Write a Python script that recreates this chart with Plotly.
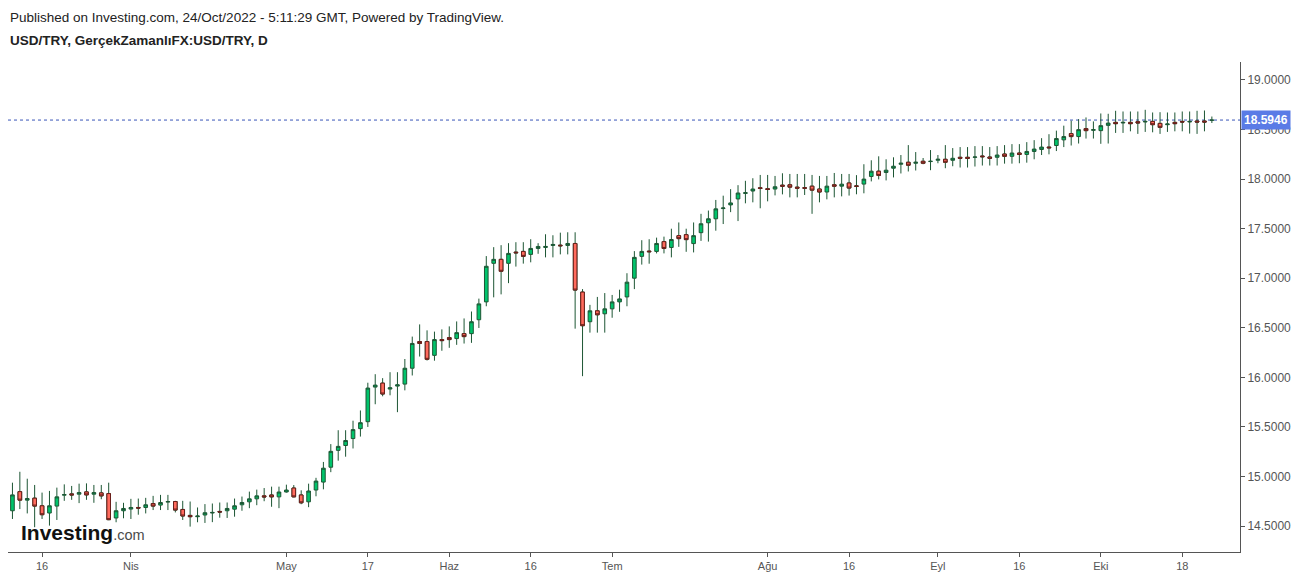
import pandas as pd
import plotly.graph_objects as go

# ---- data (weekday daily candles, 10 Mar 2022 - 24 Oct 2022) ----
dates = [d.strftime("%Y-%m-%d") for d in pd.bdate_range("2022-03-10", "2022-10-24")]

open_ = [14.655, 14.848, 14.762, 14.782, 14.705, 14.632, 14.702, 14.812, 14.825, 14.822,
         14.845, 14.822, 14.835, 14.828, 14.582, 14.655, 14.672, 14.688, 14.688, 14.728,
         14.712, 14.742, 14.748, 14.668, 14.608, 14.595, 14.612, 14.632, 14.648, 14.655,
         14.671, 14.715, 14.745, 14.775, 14.805, 14.814, 14.795, 14.844, 14.884, 14.814,
         14.745, 14.864, 14.944, 15.094, 15.264, 15.313, 15.383, 15.483, 15.553, 15.902,
         15.942, 15.882, 15.912, 15.932, 16.092, 16.361, 16.361, 16.222, 16.381, 16.401,
         16.391, 16.441, 16.441, 16.581, 16.761, 17.150, 17.190, 17.150, 17.263, 17.270,
         17.240, 17.300, 17.310, 17.330, 17.333, 17.330, 17.350, 16.860, 16.561, 16.671,
         16.641, 16.691, 16.761, 16.811, 17.000, 17.220, 17.273, 17.270, 17.369, 17.310,
         17.429, 17.439, 17.349, 17.459, 17.559, 17.599, 17.702, 17.739, 17.799, 17.855,
         17.879, 17.912, 17.902, 17.899, 17.938, 17.942, 17.918, 17.912, 17.928, 17.899,
         17.869, 17.942, 17.928, 17.960, 17.930, 17.949, 18.026, 18.079, 18.066, 18.109,
         18.149, 18.169, 18.159, 18.179, 18.176, 18.189, 18.199, 18.189, 18.219, 18.219,
         18.219, 18.232, 18.222, 18.219, 18.252, 18.229, 18.262, 18.248, 18.278, 18.298,
         18.322, 18.338, 18.395, 18.458, 18.428, 18.508, 18.491, 18.488, 18.541, 18.571,
         18.565, 18.571, 18.578, 18.575, 18.581, 18.561, 18.548, 18.571, 18.581, 18.575,
         18.585, 18.585, 18.592]
high = [14.938, 15.048, 14.978, 14.915, 14.838, 14.855, 14.888, 14.921, 14.905, 14.928,
        14.931, 14.915, 14.915, 14.938, 14.745, 14.735, 14.775, 14.778, 14.785, 14.805,
        14.815, 14.815, 14.755, 14.755, 14.748, 14.688, 14.722, 14.728, 14.738, 14.738,
        14.778, 14.798, 14.848, 14.868, 14.884, 14.898, 14.898, 14.918, 14.914, 14.861,
        14.928, 14.987, 15.147, 15.327, 15.467, 15.467, 15.563, 15.666, 15.946, 16.032,
        15.992, 16.052, 16.052, 16.185, 16.411, 16.534, 16.474, 16.461, 16.484, 16.514,
        16.564, 16.594, 16.664, 16.794, 17.223, 17.313, 17.333, 17.353, 17.363, 17.363,
        17.393, 17.353, 17.443, 17.433, 17.459, 17.463, 17.463, 16.890, 16.731, 16.811,
        16.850, 16.831, 16.884, 17.050, 17.273, 17.383, 17.393, 17.409, 17.419, 17.499,
        17.562, 17.499, 17.562, 17.649, 17.682, 17.789, 17.832, 17.898, 17.938, 17.982,
        18.008, 18.041, 18.041, 18.031, 18.058, 18.051, 18.051, 18.051, 18.041, 18.031,
        18.031, 18.061, 18.051, 18.051, 18.039, 18.149, 18.189, 18.229, 18.199, 18.219,
        18.242, 18.342, 18.272, 18.212, 18.292, 18.242, 18.342, 18.312, 18.322, 18.322,
        18.332, 18.332, 18.322, 18.332, 18.342, 18.352, 18.352, 18.372, 18.392, 18.412,
        18.452, 18.488, 18.538, 18.588, 18.604, 18.621, 18.581, 18.661, 18.658, 18.688,
        18.681, 18.681, 18.681, 18.698, 18.671, 18.674, 18.671, 18.671, 18.681, 18.681,
        18.688, 18.691, 18.630]
low = [14.572, 14.672, 14.628, 14.489, 14.572, 14.505, 14.562, 14.755, 14.765, 14.732,
       14.765, 14.735, 14.771, 14.560, 14.539, 14.579, 14.572, 14.615, 14.628, 14.662,
       14.662, 14.662, 14.638, 14.562, 14.495, 14.539, 14.532, 14.540, 14.585, 14.582,
       14.595, 14.655, 14.681, 14.711, 14.751, 14.695, 14.681, 14.838, 14.790, 14.721,
       14.691, 14.801, 14.871, 15.044, 15.160, 15.200, 15.283, 15.403, 15.500, 15.729,
       15.809, 15.819, 15.649, 15.869, 16.019, 16.210, 16.170, 16.168, 16.268, 16.298,
       16.328, 16.341, 16.348, 16.498, 16.717, 16.807, 16.837, 16.950, 17.117, 17.147,
       17.160, 17.246, 17.210, 17.210, 17.240, 17.240, 16.491, 16.012, 16.451, 16.451,
       16.451, 16.601, 16.661, 16.717, 16.890, 17.137, 17.146, 17.250, 17.250, 17.210,
       17.316, 17.266, 17.260, 17.376, 17.369, 17.479, 17.546, 17.666, 17.576, 17.755,
       17.765, 17.705, 17.775, 17.835, 17.845, 17.815, 17.815, 17.839, 17.649, 17.765,
       17.795, 17.815, 17.825, 17.833, 17.846, 17.856, 17.976, 17.996, 17.986, 18.016,
       18.056, 18.076, 18.086, 18.149, 18.089, 18.159, 18.109, 18.129, 18.116, 18.116,
       18.126, 18.136, 18.136, 18.136, 18.155, 18.155, 18.159, 18.165, 18.199, 18.242,
       18.249, 18.282, 18.322, 18.338, 18.358, 18.408, 18.408, 18.355, 18.358, 18.465,
       18.465, 18.481, 18.455, 18.475, 18.471, 18.455, 18.475, 18.481, 18.481, 18.458,
       18.455, 18.481, 18.565]
close = [14.815, 14.762, 14.778, 14.702, 14.615, 14.705, 14.795, 14.818, 14.815, 14.838,
         14.815, 14.838, 14.805, 14.565, 14.655, 14.678, 14.688, 14.682, 14.715, 14.702,
         14.738, 14.748, 14.662, 14.602, 14.595, 14.602, 14.635, 14.638, 14.642, 14.678,
         14.705, 14.738, 14.775, 14.805, 14.795, 14.795, 14.844, 14.864, 14.795, 14.735,
         14.854, 14.954, 15.084, 15.254, 15.304, 15.363, 15.473, 15.543, 15.892, 15.922,
         15.832, 15.895, 15.925, 16.092, 16.342, 16.342, 16.182, 16.381, 16.371, 16.381,
         16.451, 16.411, 16.561, 16.741, 17.120, 17.190, 17.070, 17.250, 17.256, 17.220,
         17.300, 17.320, 17.320, 17.340, 17.327, 17.350, 16.880, 16.521, 16.671, 16.631,
         16.691, 16.761, 16.791, 16.960, 17.210, 17.270, 17.267, 17.350, 17.300, 17.390,
         17.399, 17.389, 17.429, 17.549, 17.599, 17.699, 17.708, 17.759, 17.859, 17.862,
         17.899, 17.905, 17.895, 17.922, 17.928, 17.918, 17.908, 17.908, 17.888, 17.869,
         17.928, 17.928, 17.948, 17.909, 17.927, 17.999, 18.079, 18.036, 18.089, 18.129,
         18.159, 18.139, 18.169, 18.159, 18.179, 18.199, 18.169, 18.209, 18.209, 18.209,
         18.222, 18.225, 18.209, 18.242, 18.229, 18.262, 18.248, 18.278, 18.302, 18.322,
         18.315, 18.408, 18.428, 18.428, 18.498, 18.488, 18.498, 18.538, 18.564, 18.558,
         18.571, 18.558, 18.565, 18.581, 18.548, 18.521, 18.555, 18.558, 18.575, 18.581,
         18.575, 18.575, 18.5946]

tick_dates = ["2022-03-16", "2022-04-01", "2022-05-02", "2022-05-17", "2022-06-01",
              "2022-06-16", "2022-07-01", "2022-08-01", "2022-08-16", "2022-09-01",
              "2022-09-16", "2022-10-03", "2022-10-18"]
tick_labels = ["16", "Nis", "May", "17", "Haz", "16", "Tem", "Ağu", "16", "Eyl", "16", "Eki", "18"]
y_ticks = [14.5, 15.0, 15.5, 16.0, 16.5, 17.0, 17.5, 18.0, 18.5, 19.0]

title_line1 = "Published on Investing.com, 24/Oct/2022 - 5:11:29 GMT, Powered by TradingView."
title_line2 = "USD/TRY, GerçekZamanlıFX:USD/TRY, D"

last_close = close[-1]

WICK = "#1d5634"
UP_FILL = "#00C46C"
DN_FILL = "#FF6B5D"
DN_EDGE = "#6a1e1a"

fig = go.Figure()
# full candles: wicks (dark green for all), bodies
fig.add_trace(go.Candlestick(
    x=dates, open=open_, high=high, low=low, close=close,
    increasing=dict(line=dict(color=WICK, width=1), fillcolor=UP_FILL),
    decreasing=dict(line=dict(color=WICK, width=1), fillcolor=DN_FILL),
    whiskerwidth=0, showlegend=False, hoverinfo="x+y",
))
# dark red outline over falling bodies
dn = [i for i in range(len(dates)) if close[i] < open_[i]]
fig.add_trace(go.Candlestick(
    x=[dates[i] for i in dn],
    open=[open_[i] for i in dn], high=[open_[i] for i in dn],
    low=[close[i] for i in dn], close=[close[i] for i in dn],
    increasing=dict(line=dict(color=DN_EDGE, width=1), fillcolor=DN_FILL),
    decreasing=dict(line=dict(color=DN_EDGE, width=1), fillcolor=DN_FILL),
    whiskerwidth=0, showlegend=False, hoverinfo="skip",
))

fig.add_shape(type="line", xref="paper", x0=0, x1=1, yref="y", y0=last_close, y1=last_close,
              line=dict(color="#3a56b8", width=1, dash="dot"), layer="below")

fig.add_annotation(xref="paper", x=1.0, yref="y", y=last_close, xanchor="left", yanchor="middle",
                   text="<b>18.5946</b>", showarrow=False, bgcolor="#5a7be6",
                   font=dict(color="white", size=12, family="Liberation Sans, Arial"),
                   borderpad=2, xshift=1)

fig.add_annotation(xref="paper", yref="paper", x=0.0, y=1.0, xanchor="left", yanchor="bottom",
                   text=title_line1, showarrow=False, yshift=35, xshift=0,
                   font=dict(color="#222222", size=13.5, family="Liberation Sans, Arial"))
fig.add_annotation(xref="paper", yref="paper", x=0.0, y=1.0, xanchor="left", yanchor="bottom",
                   text="<b>" + title_line2 + "</b>", showarrow=False, yshift=12, xshift=0,
                   font=dict(color="#222222", size=13.5, family="Liberation Sans, Arial"))

fig.add_annotation(xref="paper", yref="paper", x=0.009, y=0.0, xanchor="left", yanchor="bottom",
                   text="<b>Investing</b><span style='font-size:14.5px;color:#4a4a4a'>.com</span>",
                   showarrow=False, yshift=6,
                   font=dict(color="#111111", size=21, family="Liberation Sans, Arial"))

fig.update_layout(
    width=1299, height=580,
    margin=dict(l=8, r=58, t=62, b=23),
    paper_bgcolor="white", plot_bgcolor="white",
    font=dict(family="Liberation Sans, Arial", color="#555555", size=11),
    showlegend=False,
    xaxis=dict(
        type="category", range=[-0.6, 165.8], rangeslider=dict(visible=False),
        tickmode="array", tickvals=tick_dates, ticktext=tick_labels,
        showgrid=False, zeroline=False, showline=True, linecolor="#555555", linewidth=1,
        ticks="outside", ticklen=4, tickcolor="#555555",
        tickfont=dict(size=11, color="#555555"),
    ),
    yaxis=dict(
        side="right", range=[14.239, 19.180],
        tickmode="array", tickvals=y_ticks, tickformat=".4f",
        showgrid=False, zeroline=False, showline=True, linecolor="#555555", linewidth=1,
        ticks="outside", ticklen=4, tickcolor="#555555",
        tickfont=dict(size=12, color="#555555"),
    ),
    hovermode="x",
)

fig.write_html("out.html")
